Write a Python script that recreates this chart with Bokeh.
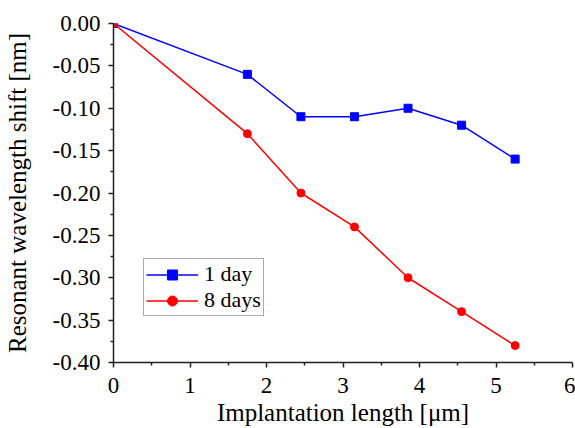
from bokeh.plotting import figure
from bokeh.models import Range1d, PrintfTickFormatter, FixedTicker, Legend, LegendItem, LinearAxis
from bokeh.embed import file_html
from bokeh.resources import INLINE

length_um = [0, 1.75, 2.45, 3.15, 3.85, 4.55, 5.25]
shift_1day = [0, -0.06, -0.11, -0.11, -0.10, -0.12, -0.16]
shift_8days = [0, -0.13, -0.20, -0.24, -0.30, -0.34, -0.38]
x_ticks = [0, 1, 2, 3, 4, 5, 6]
y_ticks = [-0.40, -0.35, -0.30, -0.25, -0.20, -0.15, -0.10, -0.05, 0.00]

FONT = "Liberation Serif"

p = figure(width=575, height=428, output_backend="svg", toolbar_location=None,
           x_range=Range1d(0, 6), y_range=Range1d(-0.40, 0.0),
           x_axis_type=None, y_axis_type=None,
           min_border_left=112, min_border_right=3, min_border_top=23, min_border_bottom=66)
p.outline_line_color = None
p.grid.visible = False
p.background_fill_color = "white"
p.border_fill_color = "white"

l1 = p.line(length_um, shift_1day, line_color="#0000ff", line_width=1.5)
m1 = p.scatter(length_um, shift_1day, marker="square", size=8, color="#0000ff")
l2 = p.line(length_um, shift_8days, line_color="#ff0000", line_width=1.5)
m2 = p.scatter(length_um, shift_8days, marker="circle", size=8, color="#ff0000")


def make_axis(ticks, minor, label, fmt=None):
    ax = LinearAxis(ticker=FixedTicker(ticks=ticks, minor_ticks=minor),
                    axis_label=label,
                    axis_line_color="#222222", axis_line_width=1.5,
                    major_tick_line_color="#222222", minor_tick_line_color="#222222",
                    major_tick_line_width=1.5, minor_tick_line_width=1.5,
                    major_tick_out=5, major_tick_in=0, minor_tick_out=3, minor_tick_in=0,
                    major_label_text_font=FONT, major_label_text_font_size="23px",
                    major_label_text_color="black",
                    axis_label_text_font=FONT, axis_label_text_font_size="25px",
                    axis_label_text_font_style="normal", axis_label_text_color="black")
    if fmt is not None:
        ax.formatter = fmt
    return ax


xax = make_axis(x_ticks, [v + 0.5 for v in x_ticks[:-1]], "Implantation length [μm]")
yax = make_axis(y_ticks, [v + 0.025 for v in y_ticks[:-1]], "Resonant wavelength shift [nm]",
                PrintfTickFormatter(format="%.2f"))
xax.major_label_standoff = 10
xax.axis_label_standoff = 3
yax.major_label_standoff = 8
yax.axis_label_standoff = 19
p.add_layout(xax, "below")
p.add_layout(yax, "left")

legend = Legend(items=[LegendItem(label="1 day", renderers=[l1, m1]),
                       LegendItem(label="8 days", renderers=[l2, m2])],
                location=(30, 46))
legend.label_text_font = FONT
legend.label_text_font_size = "22px"
legend.label_text_color = "black"
legend.border_line_color = "#555555"
legend.border_line_width = 1
legend.padding = 2
legend.spacing = 0
legend.margin = 0
legend.glyph_width = 52
legend.label_standoff = 6
legend.label_height = 25
legend.glyph_height = 25
p.add_layout(legend, "center")

open("out.html", "w").write(file_html(p, INLINE))
